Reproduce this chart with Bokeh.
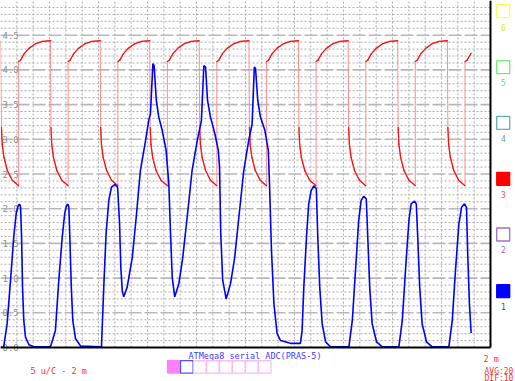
import numpy as np
from bokeh.plotting import figure
from bokeh.models import Range1d
from bokeh.core.properties import value
from bokeh.embed import file_html
from bokeh.resources import INLINE

# ---------------- data (time in ms, voltage in V) ----------------
blue_t = [0.00, 0.13, 0.27, 0.41, 0.54, 0.64, 0.71, 0.75, 0.79, 0.82, 0.86, 0.90, 0.95, 1.02, 1.16, 1.36, 2.04,
          2.24, 2.38, 2.52, 2.62, 2.68, 2.72, 2.76, 2.79, 2.83, 2.89, 2.95, 3.06, 3.27, 4.08,
          4.12, 4.22, 4.31, 4.42, 4.53, 4.67, 4.78, 4.86, 4.91, 4.97, 5.03, 5.17, 5.38, 5.54, 5.71,
          5.92, 6.05, 6.12, 6.22, 6.27, 6.36, 6.46, 6.60, 6.76, 6.87, 6.94, 7.01, 7.11, 7.28, 7.44,
          7.62, 7.82, 8.03, 8.20, 8.30, 8.37, 8.45, 8.57, 8.75, 8.89, 8.94, 8.99, 9.07, 9.21, 9.39,
          9.56, 9.73, 9.93, 10.13, 10.27, 10.36, 10.41, 10.50, 10.61, 10.79, 10.93, 10.98, 11.06,
          11.16, 11.29, 11.43, 11.84, 12.24,
          12.31, 12.38, 12.49, 12.58, 12.68, 12.79, 12.89, 12.95, 13.03, 13.13, 13.27, 13.47, 14.22,
          14.36, 14.49, 14.62, 14.72, 14.83, 14.93, 14.99, 15.07, 15.17, 15.35, 15.58, 16.26,
          16.40, 16.53, 16.67, 16.76, 16.90, 16.97, 17.03, 17.11, 17.21, 17.39, 17.62, 18.30,
          18.44, 18.57, 18.71, 18.82, 18.94, 19.02, 19.07, 19.14, 19.21]
blue_v = [0.00, 0.01, 0.34, 0.97, 1.59, 1.93, 2.03, 2.06, 2.06, 2.02, 1.59, 0.87, 0.39, 0.15, 0.04, 0.01, 0.01,
          0.24, 0.97, 1.59, 1.93, 2.03, 2.06, 2.06, 2.02, 1.59, 0.87, 0.39, 0.13, 0.02, 0.01,
          0.00, 0.92, 1.64, 2.12, 2.31, 2.35, 2.31, 1.78, 1.16, 0.82, 0.73, 0.87, 1.30, 1.88, 2.55,
          2.98, 3.27, 3.37, 4.09, 4.06, 3.56, 3.32, 3.13, 2.84, 2.36, 1.64, 1.01, 0.73, 0.92, 1.30,
          1.88, 2.55, 2.98, 3.27, 4.06, 4.04, 3.56, 3.32, 3.08, 2.84, 2.60, 1.64, 0.97, 0.70, 0.92,
          1.30, 1.88, 2.55, 2.98, 3.22, 4.04, 4.02, 3.56, 3.32, 3.13, 2.84, 2.36, 1.40,
          0.63, 0.20, 0.10, 0.06, 0.06,
          0.24, 0.87, 1.59, 2.07, 2.26, 2.33, 2.29, 1.59, 0.87, 0.34, 0.08, 0.01, 0.01,
          0.39, 1.11, 1.83, 2.12, 2.18, 2.14, 1.59, 0.87, 0.34, 0.08, 0.01, 0.01,
          0.39, 1.11, 1.83, 2.07, 2.11, 2.07, 1.59, 0.87, 0.34, 0.08, 0.01, 0.01,
          0.39, 1.11, 1.78, 2.02, 2.07, 2.02, 1.35, 0.63, 0.21]

red_t = [0.00, 0.04, 0.07, 0.14, 0.28, 0.48, 0.74, 0.74, 0.82, 0.96, 1.16, 1.44, 1.71,
         2.04, 2.06, 2.09, 2.16, 2.30, 2.50, 2.76, 2.76, 2.84, 2.98, 3.18, 3.46, 3.73,
         4.07, 4.09, 4.12, 4.19, 4.33, 4.53, 4.79, 4.79, 4.87, 5.01, 5.21, 5.49, 5.76,
         6.09, 6.11, 6.14, 6.21, 6.35, 6.55, 6.81, 6.81, 6.89, 7.03, 7.23, 7.51, 7.78,
         8.11, 8.13, 8.16, 8.23, 8.37, 8.57, 8.83, 8.83, 8.91, 9.05, 9.25, 9.53, 9.80,
         10.14, 10.16, 10.19, 10.26, 10.40, 10.60, 10.86, 10.86, 10.94, 11.08, 11.28, 11.56, 11.83,
         12.16, 12.18, 12.21, 12.28, 12.42, 12.62, 12.88, 12.88, 12.96, 13.10, 13.30, 13.58, 13.85,
         14.19, 14.21, 14.24, 14.31, 14.45, 14.65, 14.91, 14.91, 14.99, 15.13, 15.33, 15.61, 15.88,
         16.21, 16.23, 16.26, 16.33, 16.47, 16.67, 16.93, 16.93, 17.01, 17.15, 17.35, 17.63, 17.90,
         18.24, 18.26, 18.29, 18.36, 18.50, 18.70, 18.96, 18.96, 19.04, 19.21]
red_v = [4.42, 3.17, 2.93, 2.74, 2.55, 2.41, 2.33, 4.12, 4.14, 4.23, 4.31, 4.38, 4.41,
         4.42, 3.17, 2.93, 2.74, 2.55, 2.41, 2.33, 4.12, 4.14, 4.23, 4.31, 4.38, 4.41,
         4.42, 3.17, 2.93, 2.74, 2.55, 2.41, 2.33, 4.12, 4.14, 4.23, 4.31, 4.38, 4.41,
         4.42, 3.17, 2.93, 2.74, 2.55, 2.41, 2.33, 4.12, 4.14, 4.23, 4.31, 4.38, 4.41,
         4.42, 3.17, 2.93, 2.74, 2.55, 2.41, 2.33, 4.12, 4.14, 4.23, 4.31, 4.38, 4.41,
         4.42, 3.17, 2.93, 2.74, 2.55, 2.41, 2.33, 4.12, 4.14, 4.23, 4.31, 4.38, 4.41,
         4.42, 3.17, 2.93, 2.74, 2.55, 2.41, 2.33, 4.12, 4.14, 4.23, 4.31, 4.38, 4.41,
         4.42, 3.17, 2.93, 2.74, 2.55, 2.41, 2.33, 4.12, 4.14, 4.23, 4.31, 4.38, 4.41,
         4.42, 3.17, 2.93, 2.74, 2.55, 2.41, 2.33, 4.12, 4.14, 4.23, 4.31, 4.38, 4.41,
         4.42, 3.17, 2.93, 2.74, 2.55, 2.41, 2.33, 4.12, 4.14, 4.24]

y_tick_values = [4.5, 4.0, 3.5, 3.0, 2.5, 2.0, 1.5, 1.0, 0.5, 0.0]
y_tick_labels = ["4.5", "4.0", "3.5", "3.0", "2.5", "2.0", "1.5", "1.0", "0.5", "0.0"]
channel_labels = ["6", "5", "4", "3", "2", "1"]
title_text = "ATMega8 serial ADC(PRAS-5)"
scale_text = "5 u/C - 2 m"
time_text = "2 m"
avg_text = "AVG:20"
dif_text = "DIF:10"

# ---------------- layout helpers (pixel -> data) ----------------
W, H = 515, 381
PX_PER_MS = 24.5
PX_PER_V = 69.4
Y_ZERO = 347.0
T_MAX = 20.0
V_MAX = 5.0


def sx(px):
    return px / PX_PER_MS


def sy(py):
    return (Y_ZERO - py) / PX_PER_V


p = figure(width=W, height=H, output_backend="svg", toolbar_location=None,
           x_range=Range1d(sx(0), sx(W)), y_range=Range1d(sy(H), sy(0)),
           x_axis_type=None, y_axis_type=None, min_border=0,
           outline_line_color=None, background_fill_color="white",
           border_fill_color="white")
p.grid.visible = False

# ---------------- grid ----------------
minor_v = [round(v, 2) for v in np.arange(0.1, 5.0, 0.1) if abs(v * 2 - round(v * 2)) > 1e-6]
major_v = [v for v in y_tick_values if v > 0]
minor_t = [k * 2.0 / 3.0 for k in range(1, 30)]

p.segment(x0=[0] * len(minor_v), x1=[T_MAX] * len(minor_v), y0=minor_v, y1=minor_v,
          line_color="#ababab", line_width=1, line_dash="2 2")
p.segment(x0=minor_t, x1=minor_t, y0=[0] * len(minor_t), y1=[V_MAX] * len(minor_t),
          line_color="#ababab", line_width=1, line_dash="2 2")
p.segment(x0=[0] * len(major_v), x1=[T_MAX] * len(major_v), y0=major_v, y1=major_v,
          line_color="#b8b8b8", line_width=1.6, line_dash="13 3")

# y labels inside the plot
p.text(x=[sx(2)] * len(y_tick_values), y=y_tick_values, text=y_tick_labels,
       text_font=value("DejaVu Sans Mono"), text_font_size="9px",
       text_color="#909090", text_align="left", text_baseline="middle")

# ---------------- traces ----------------
# red: whole trace light (fast transitions look pale), slow parts overdrawn in full red
p.line(red_t, red_v, line_color="#ff8c8c", line_width=1)
seg_x, seg_y = [], []
for i in range(len(red_t) - 1):
    dt = red_t[i + 1] - red_t[i]
    if dt > 0 and abs(red_v[i + 1] - red_v[i]) / dt < 20:
        seg_x.append([red_t[i], red_t[i + 1]])
        seg_y.append([red_v[i], red_v[i + 1]])
p.multi_line(seg_x, seg_y, line_color="#ff1010", line_width=1.3, line_cap="round")

p.line(blue_t, blue_v, line_color="#0000ff", line_width=1.6)

# ---------------- frame lines ----------------
p.segment(x0=[0], x1=[T_MAX], y0=[0], y1=[0], line_color="black", line_width=2)
p.segment(x0=[T_MAX], x1=[T_MAX], y0=[0], y1=[V_MAX], line_color="black", line_width=2)

# ---------------- bottom panel ----------------
p.text(x=[sx(30)], y=[sy(370)], text=[scale_text], text_font=value("DejaVu Sans Mono"),
       text_font_size="8.5px", text_color="#ff3030", text_align="left", text_baseline="middle")
p.text(x=[sx(188)], y=[sy(355.5)], text=[title_text], text_font=value("DejaVu Sans Mono"),
       text_font_size="8.5px", text_color="#3c3cff", text_align="left", text_baseline="middle")
p.text(x=[sx(483)], y=[sy(358)], text=[time_text], text_font=value("DejaVu Sans Mono"),
       text_font_size="8.5px", text_color="#ff3030", text_align="left", text_baseline="middle")
p.text(x=[sx(484), sx(484)], y=[sy(371), sy(377.5)], text=[avg_text, dif_text],
       text_font=value("DejaVu Sans Mono"), text_font_size="8px", text_color="#ff3030",
       text_align="left", text_baseline="middle")

box_cx = [173.3, 186.3, 199.3, 212.3, 225.3, 238.3, 251.3, 264.3]
box_fill = ["#ff80ff"] + ["white"] * 7
box_line = ["#ff80ff", "#5050ff"] + ["#ffb8ff"] * 6
p.rect(x=[sx(c) for c in box_cx], y=[sy(366.3)] * 8, width=12.5, height=12.5,
       width_units="screen", height_units="screen", fill_color=box_fill,
       line_color=box_line, line_width=1.2)

# ---------------- right panel ----------------
ch_cy = [10.7, 66.7, 122.3, 178.3, 234.0, 290.7]
ch_ly = [27.0, 82.0, 137.5, 194.0, 249.0, 305.5]
ch_line = ["#ffff50", "#70f070", "#60b0b0", "#ff0000", "#a070c0", "#0000ff"]
ch_fill = ["white", "white", "white", "#ff0000", "white", "#0000ff"]
ch_text = ["#f0e040", "#60e060", "#60a8a8", "#ff5050", "#9a66c8", "#3030ff"]
p.rect(x=[sx(502.7)] * 6, y=[sy(c) for c in ch_cy], width=13, height=13,
       width_units="screen", height_units="screen", fill_color=ch_fill,
       line_color=ch_line, line_width=1.3)
p.text(x=[sx(503)] * 6, y=[sy(c) for c in ch_ly], text=channel_labels,
       text_font=value("DejaVu Sans Mono"), text_font_size="8px", text_color=ch_text,
       text_align="center", text_baseline="middle")

open("out.html", "w").write(file_html(p, INLINE))
